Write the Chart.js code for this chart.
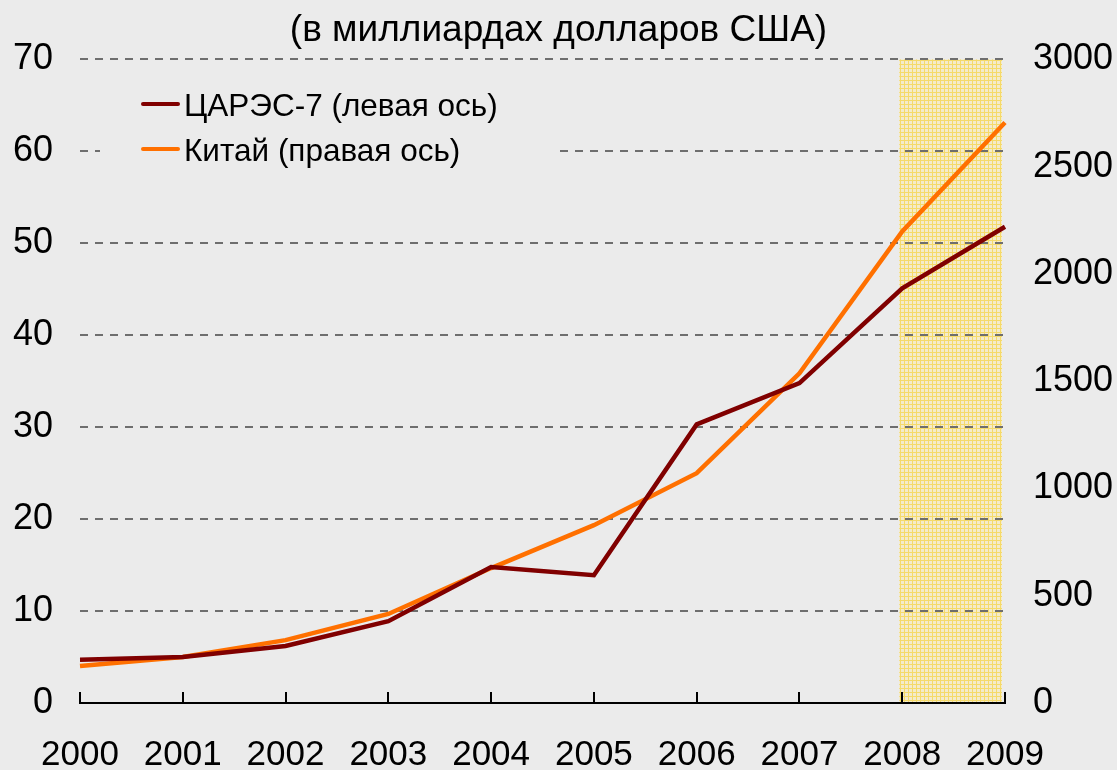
<!DOCTYPE html>
<html>
<head>
<meta charset="utf-8">
<script src="https://cdn.jsdelivr.net/npm/chart.js@4"></script>
<style>
  body { margin: 0; background: #ebebeb; }
  #wrap { width: 1117px; height: 770px; }
</style>
</head>
<body>
<div id="wrap"><canvas id="reservesChart" width="1117" height="770"></canvas></div>
<script>
const years = ["2000", "2001", "2002", "2003", "2004", "2005", "2006", "2007", "2008", "2009"];
const caresValues = [4.7, 5.0, 6.2, 8.9, 14.8, 13.9, 30.3, 34.8, 45.1, 51.8];
const chinaValues = [172, 214, 293, 415, 629, 829, 1071, 1537, 2198, 2706];
const shadedYears = ["2008", "2009"];
const titleText = "(в миллиардах долларов США)";
const caresLabel = "ЦАРЭС-7 (левая ось)";
const chinaLabel = "Китай (правая ось)";

const FONT = "'Liberation Sans', Arial, sans-serif";
const ctx = document.getElementById("reservesChart");

const makePattern = () => {
    const c = document.createElement("canvas");
    c.width = 4;
    c.height = 4;
    const p = c.getContext("2d");
    p.fillStyle = "#f4ebcb";
    p.fillRect(0, 0, 4, 4);
    p.fillStyle = "#f5da6a";
    p.fillRect(0, 0, 4, 1);
    p.fillRect(0, 0, 1, 4);
    return p.createPattern(c, "repeat");
};

const shadePlugin = {
    id: "shade",
    beforeDraw(chart) {
        const { ctx, chartArea, scales } = chart;
        const x0 = scales.x.getPixelForValue(years.indexOf(shadedYears[0]));
        const x1 = scales.x.getPixelForValue(years.indexOf(shadedYears[1]));
        ctx.save();
        ctx.fillStyle = makePattern();
        ctx.fillRect(x0 - 3, chartArea.top, x1 - x0, chartArea.bottom - chartArea.top);
        ctx.restore();
    },
};

const axisTicksPlugin = {
    id: "axisTicks",
    afterDraw(chart) {
        const { ctx, chartArea, scales } = chart;
        ctx.save();
        ctx.strokeStyle = "#000";
        ctx.lineWidth = 2;
        years.forEach((y, i) => {
            const x = Math.round(scales.x.getPixelForValue(i));
            ctx.beginPath();
            ctx.moveTo(x, chartArea.bottom);
            ctx.lineTo(x, chartArea.bottom - 11);
            ctx.stroke();
        });
        ctx.restore();
    },
};

const legendPlugin = {
    id: "boxLegend",
    afterDatasetsDraw(chart) {
        const { ctx } = chart;
        ctx.save();
        ctx.fillStyle = "#ebebeb";
        ctx.fillRect(100, 84, 456, 96);
        ctx.font = "31.5px " + FONT;
        ctx.textBaseline = "middle";
        chart.data.datasets.forEach((ds, i) => {
            const y = 104 + i * 45;
            ctx.strokeStyle = ds.borderColor;
            ctx.lineWidth = 4;
            ctx.lineCap = "round";
            ctx.beginPath();
            ctx.moveTo(143, y);
            ctx.lineTo(178, y);
            ctx.stroke();
            ctx.fillStyle = "#000";
            ctx.fillText(ds.label, 184, y + 3);
        });
        ctx.restore();
    },
};

const chart = new Chart(ctx, {
    type: "line",
    data: {
        labels: years,
        datasets: [
            {
                label: caresLabel,
                data: caresValues,
                borderColor: "#800000",
                borderWidth: 4.5,
                pointRadius: 0,
                yAxisID: "y",
                tension: 0,
            },
            {
                label: chinaLabel,
                data: chinaValues,
                borderColor: "#ff7000",
                borderWidth: 4.5,
                pointRadius: 0,
                yAxisID: "y1",
                tension: 0,
            },
        ],
    },
    options: {
        responsive: false,
        animation: false,
        layout: { padding: { top: 0, bottom: 0, left: 0, right: 0 } },
        plugins: {
            legend: { display: false },
            tooltip: { enabled: false },
            title: {
                display: true,
                text: titleText,
                color: "#000",
                font: { family: FONT, size: 37, weight: "normal" },
                padding: { top: 9, bottom: 6 },
            },
        },
        scales: {
            x: {
                offset: false,
                grid: { drawOnChartArea: false, drawTicks: false },
                border: { display: true, color: "#000", width: 2 },
                ticks: {
                    color: "#000",
                    padding: 31,
                    maxRotation: 0,
                    autoSkip: false,
                    font: { family: FONT, size: 35 },
                },
                afterFit: (scale) => { scale.height = 67; },
            },
            y: {
                position: "left",
                min: 0,
                max: 70,
                ticks: {
                    stepSize: 10,
                    color: "#000",
                    padding: 27,
                    font: { family: FONT, size: 36 },
                },
                grid: {
                    color: (c) => (c.tick && c.tick.value === 0 ? "transparent" : "#6e6e6e"),
                    lineWidth: 2,
                    drawTicks: false,
                },
                border: { display: false, dash: [8, 7] },
                afterFit: (scale) => { scale.width = 80; },
            },
            y1: {
                position: "right",
                min: 0,
                max: 3000,
                ticks: {
                    stepSize: 500,
                    color: "#000",
                    padding: 28,
                    font: { family: FONT, size: 36 },
                    callback: (v) => String(v),
                },
                grid: { drawOnChartArea: false, drawTicks: false },
                border: { display: false },
                afterFit: (scale) => { scale.width = 112; },
            },
        },
    },
    plugins: [shadePlugin, axisTicksPlugin, legendPlugin],
});
</script>
</body>
</html>
